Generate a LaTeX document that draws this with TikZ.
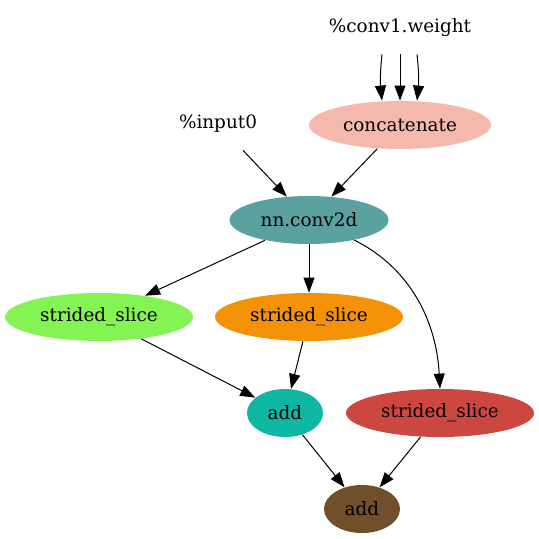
\documentclass[tikz,border=0pt]{standalone}
\usepackage{fontspec}
\setmainfont{DejaVu Serif}
\usetikzlibrary{shapes.geometric,arrows.meta}

\definecolor{catpink}{RGB}{244,184,172}
\definecolor{convteal}{RGB}{91,161,160}
\definecolor{slicegreen}{RGB}{131,244,83}
\definecolor{sliceorange}{RGB}{243,146,6}
\definecolor{addteal}{RGB}{15,182,161}
\definecolor{slicered}{RGB}{203,71,64}
\definecolor{addbrown}{RGB}{114,79,43}

\begin{document}
\begin{tikzpicture}[x=0.5pt,y=-0.5pt,
    font=\fontsize{9.2}{11}\selectfont,
    op/.style={ellipse,inner sep=0pt,minimum height=24pt},
    var/.style={rectangle,inner sep=0pt,minimum height=26pt,minimum width=40pt},
    edge/.style={-{Triangle[length=7.5pt,width=5.5pt]},line width=0.5pt}]
      \useasboundingbox (0,0) rectangle (539,539);
      \node[var] (w) at (400,28) {\%conv1.weight};
      \node[var] (x) at (218,124) {\%input0};
      \node[op,fill=catpink,minimum width=91pt] (cat) at (400,125) {concatenate};
      \node[op,fill=convteal,minimum width=79.5pt] (conv) at (309,220) {nn.conv2d};
      \node[op,fill=slicegreen,minimum width=94pt] (s1) at (99,317) {strided\_slice};
      \node[op,fill=sliceorange,minimum width=94pt] (s2) at (309,317) {strided\_slice};
      \node[op,fill=addteal,minimum width=38pt] (a1) at (285,413) {add};
      \node[op,fill=slicered,minimum width=94pt] (s3) at (440,413) {strided\_slice};
      \node[op,fill=addbrown,minimum width=38pt] (a2) at (362,509) {add};
      \draw[edge] ([xshift=-9pt]w.south) to[bend right=6] ([xshift=-9pt]cat.north);
      \draw[edge] (w.south) -- (cat.north);
      \draw[edge] ([xshift=8.5pt]w.south) to[bend left=6] ([xshift=8.5pt]cat.north);
      \draw[edge] (x) -- (conv);
      \draw[edge] (cat) -- (conv);
      \draw[edge] (conv) -- (s1);
      \draw[edge] (conv) -- (s2);
      \draw[edge] (conv.-24) .. controls (405,265) and (436,315) .. (s3.north);
      \draw[edge] (s1) -- (a1);
      \draw[edge] (s2) -- (a1);
      \draw[edge] (a1) -- (a2);
      \draw[edge] (s3) -- (a2);
    \end{tikzpicture}
\end{document}
